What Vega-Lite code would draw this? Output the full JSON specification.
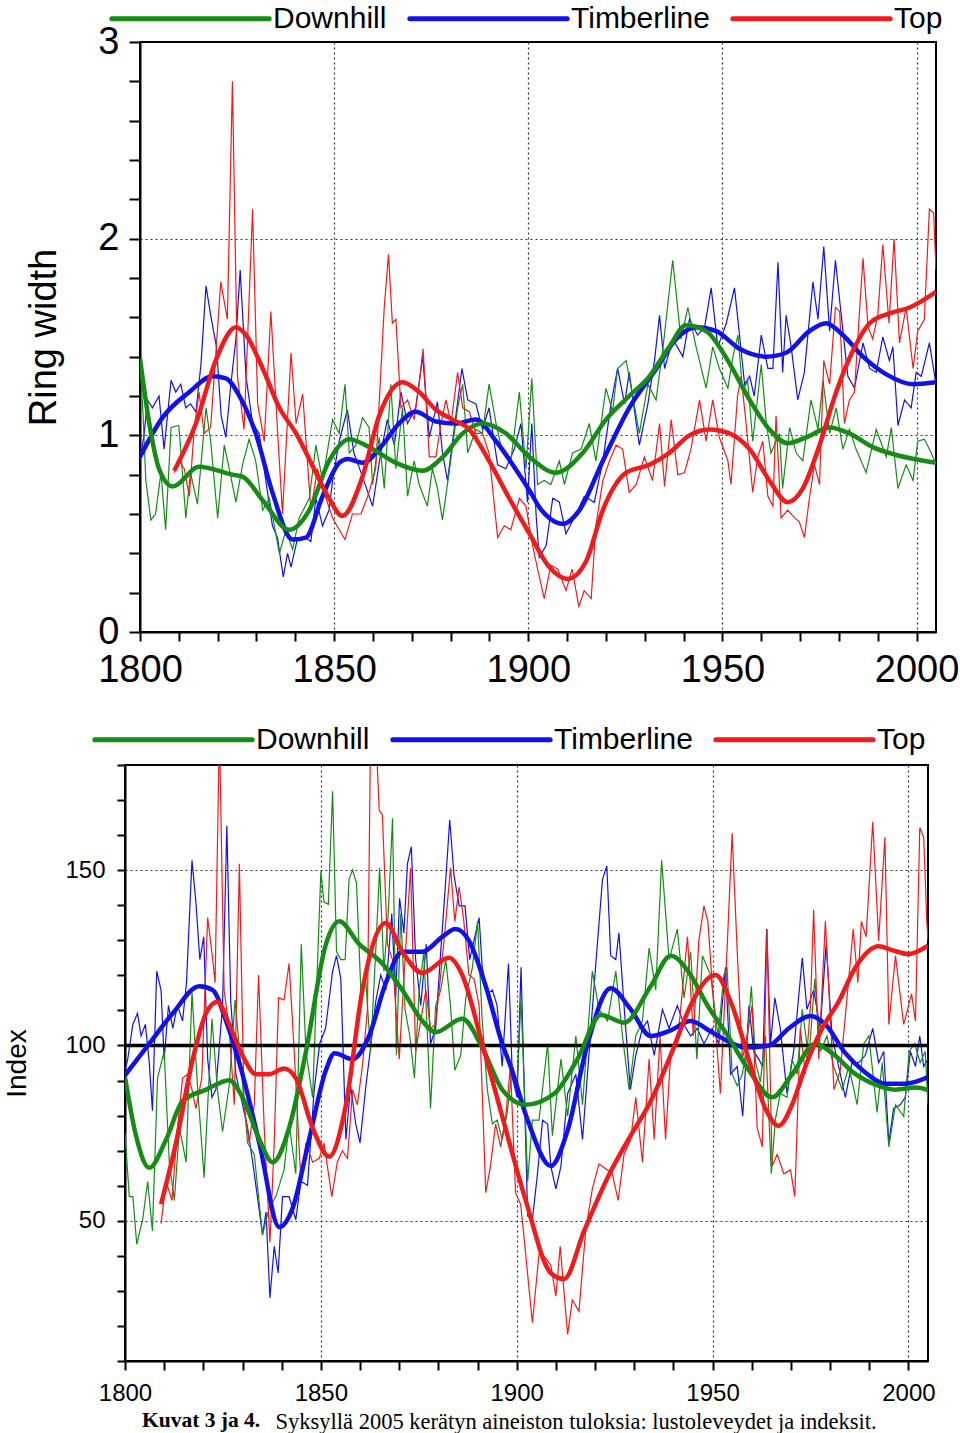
{
  "$schema": "https://vega.github.io/schema/vega-lite/v6.json",
  "padding": {"left": 2, "top": 0, "right": 0, "bottom": 0},
  "background": "white",
  "config": {
    "font": "Liberation Sans",
    "view": {"stroke": "black", "strokeWidth": 2},
    "axis": {"labelFont": "Liberation Sans", "titleFont": "Liberation Sans", "labelColor": "black", "titleColor": "black", "tickColor": "black", "domainColor": "black", "domainWidth": 2, "tickWidth": 2, "titleFontWeight": "normal", "gridColor": "#333333", "gridDash": [2, 3], "gridWidth": 1.2, "labelOverlap": false, "labelFlush": false},
    "legend": {"orient": "none", "direction": "horizontal", "symbolType": "M-5,0H5", "symbolSize": 990, "symbolStrokeWidth": 5, "labelFont": "Liberation Sans", "labelFontSize": 30, "labelColor": "black", "labelLimit": 0, "labelOffset": 64, "columnPadding": 12, "padding": 0, "title": null}
  },
  "title": {"text": "Kuvat 3 ja 4.", "orient": "bottom", "anchor": "start", "font": "Liberation Serif", "fontSize": 21.5, "fontWeight": "bold", "color": "black", "dx": 139, "offset": -24},
  "columns": 1,
  "bounds": "full",
  "spacing": 30,
  "resolve": {"scale": {"color": "independent"}, "legend": {"color": "independent"}},
  "datasets": {
    "rwRaw": [
      {"s":"Timberline","x":1800,"y":0.87},{"s":"Timberline","x":1801.1,"y":1.01},{"s":"Timberline","x":1801.9,"y":1.18},{"s":"Timberline","x":1803.2,"y":1.14},{"s":"Timberline","x":1804.9,"y":1.2},{"s":"Timberline","x":1806.2,"y":0.93},{"s":"Timberline","x":1808,"y":1.28},{"s":"Timberline","x":1809.2,"y":1.22},{"s":"Timberline","x":1810.5,"y":1.26},{"s":"Timberline","x":1811.8,"y":1.14},{"s":"Timberline","x":1813,"y":1.16},{"s":"Timberline","x":1814.4,"y":1.12},{"s":"Timberline","x":1815.7,"y":1.36},{"s":"Timberline","x":1817,"y":1.76},{"s":"Timberline","x":1818.2,"y":1.61},{"s":"Timberline","x":1819.7,"y":1.45},{"s":"Timberline","x":1820.9,"y":1.1},{"s":"Timberline","x":1822.1,"y":0.99},{"s":"Timberline","x":1823.4,"y":1.26},{"s":"Timberline","x":1824.7,"y":1.49},{"s":"Timberline","x":1825.8,"y":1.84},{"s":"Timberline","x":1827.3,"y":1.3},{"s":"Timberline","x":1829,"y":1.06},{"s":"Timberline","x":1830.7,"y":1.01},{"s":"Timberline","x":1832.4,"y":0.77},{"s":"Timberline","x":1834.1,"y":0.54},{"s":"Timberline","x":1835.4,"y":0.48},{"s":"Timberline","x":1836.9,"y":0.28},{"s":"Timberline","x":1838,"y":0.4},{"s":"Timberline","x":1838.9,"y":0.33},{"s":"Timberline","x":1840.6,"y":0.48},{"s":"Timberline","x":1842.7,"y":0.48},{"s":"Timberline","x":1844,"y":0.46},{"s":"Timberline","x":1845.3,"y":0.68},{"s":"Timberline","x":1847,"y":0.54},{"s":"Timberline","x":1848.7,"y":0.62},{"s":"Timberline","x":1849.6,"y":0.77},{"s":"Timberline","x":1851.3,"y":0.97},{"s":"Timberline","x":1853.4,"y":1.13},{"s":"Timberline","x":1855.1,"y":0.91},{"s":"Timberline","x":1857.3,"y":0.79},{"s":"Timberline","x":1859.9,"y":0.64},{"s":"Timberline","x":1862,"y":0.91},{"s":"Timberline","x":1863.7,"y":1.08},{"s":"Timberline","x":1865.5,"y":0.95},{"s":"Timberline","x":1867.2,"y":1.22},{"s":"Timberline","x":1868.9,"y":1.06},{"s":"Timberline","x":1871,"y":1.14},{"s":"Timberline","x":1872.8,"y":1.4},{"s":"Timberline","x":1874.5,"y":0.99},{"s":"Timberline","x":1876.6,"y":1.17},{"s":"Timberline","x":1877.9,"y":0.91},{"s":"Timberline","x":1879.2,"y":0.77},{"s":"Timberline","x":1880.9,"y":1.03},{"s":"Timberline","x":1882.9,"y":1.34},{"s":"Timberline","x":1884.4,"y":1.18},{"s":"Timberline","x":1886.5,"y":1.16},{"s":"Timberline","x":1888.2,"y":1.03},{"s":"Timberline","x":1889.9,"y":1.14},{"s":"Timberline","x":1892.1,"y":0.85},{"s":"Timberline","x":1894.2,"y":0.83},{"s":"Timberline","x":1896.4,"y":0.93},{"s":"Timberline","x":1898.1,"y":1.06},{"s":"Timberline","x":1899.8,"y":0.66},{"s":"Timberline","x":1900.9,"y":1.06},{"s":"Timberline","x":1902,"y":0.6},{"s":"Timberline","x":1902.8,"y":0.38},{"s":"Timberline","x":1904.6,"y":0.44},{"s":"Timberline","x":1906.3,"y":0.68},{"s":"Timberline","x":1908,"y":0.66},{"s":"Timberline","x":1909.7,"y":0.5},{"s":"Timberline","x":1912.3,"y":0.6},{"s":"Timberline","x":1914.4,"y":0.69},{"s":"Timberline","x":1917,"y":0.66},{"s":"Timberline","x":1919.2,"y":0.87},{"s":"Timberline","x":1921.3,"y":1.16},{"s":"Timberline","x":1923,"y":1.34},{"s":"Timberline","x":1924.8,"y":1.16},{"s":"Timberline","x":1926,"y":1.32},{"s":"Timberline","x":1927.8,"y":1.06},{"s":"Timberline","x":1928.6,"y":0.95},{"s":"Timberline","x":1930.8,"y":1.16},{"s":"Timberline","x":1932.5,"y":1.38},{"s":"Timberline","x":1933.8,"y":1.61},{"s":"Timberline","x":1935.1,"y":1.34},{"s":"Timberline","x":1937.2,"y":1.49},{"s":"Timberline","x":1939.8,"y":1.4},{"s":"Timberline","x":1941.5,"y":1.59},{"s":"Timberline","x":1943.6,"y":1.51},{"s":"Timberline","x":1945.4,"y":1.55},{"s":"Timberline","x":1947.1,"y":1.75},{"s":"Timberline","x":1948.8,"y":1.45},{"s":"Timberline","x":1951,"y":1.57},{"s":"Timberline","x":1953.1,"y":1.75},{"s":"Timberline","x":1954.4,"y":1.51},{"s":"Timberline","x":1955.7,"y":1.26},{"s":"Timberline","x":1957,"y":1.3},{"s":"Timberline","x":1958.2,"y":1.2},{"s":"Timberline","x":1960,"y":1.51},{"s":"Timberline","x":1961.7,"y":1.34},{"s":"Timberline","x":1963,"y":1.34},{"s":"Timberline","x":1964.3,"y":1.88},{"s":"Timberline","x":1965.5,"y":1.32},{"s":"Timberline","x":1966.4,"y":1.61},{"s":"Timberline","x":1967.7,"y":1.45},{"s":"Timberline","x":1969.4,"y":1.18},{"s":"Timberline","x":1971.1,"y":1.32},{"s":"Timberline","x":1973.3,"y":1.78},{"s":"Timberline","x":1974.6,"y":1.59},{"s":"Timberline","x":1976.1,"y":1.96},{"s":"Timberline","x":1977.6,"y":1.53},{"s":"Timberline","x":1979.1,"y":1.89},{"s":"Timberline","x":1980.6,"y":1.61},{"s":"Timberline","x":1982.3,"y":1.3},{"s":"Timberline","x":1984,"y":1.24},{"s":"Timberline","x":1986.2,"y":1.47},{"s":"Timberline","x":1987.9,"y":1.34},{"s":"Timberline","x":1989.6,"y":1.32},{"s":"Timberline","x":1991.3,"y":1.5},{"s":"Timberline","x":1993,"y":1.38},{"s":"Timberline","x":1993.9,"y":1.45},{"s":"Timberline","x":1995.2,"y":1.05},{"s":"Timberline","x":1996.9,"y":1.18},{"s":"Timberline","x":1998.6,"y":1.14},{"s":"Timberline","x":1999.9,"y":1.32},{"s":"Timberline","x":2001.2,"y":1.3},{"s":"Timberline","x":2003.3,"y":1.47},{"s":"Timberline","x":2005,"y":1.26},
      {"s":"Downhill","x":1800,"y":1.38},{"s":"Downhill","x":1800.8,"y":1.1},{"s":"Downhill","x":1801.5,"y":0.77},{"s":"Downhill","x":1802.8,"y":0.57},{"s":"Downhill","x":1804,"y":0.6},{"s":"Downhill","x":1805.4,"y":0.81},{"s":"Downhill","x":1806.6,"y":0.52},{"s":"Downhill","x":1808,"y":1.04},{"s":"Downhill","x":1810,"y":1.05},{"s":"Downhill","x":1811.8,"y":0.58},{"s":"Downhill","x":1813,"y":0.81},{"s":"Downhill","x":1814.8,"y":0.65},{"s":"Downhill","x":1817,"y":1.14},{"s":"Downhill","x":1818.2,"y":0.97},{"s":"Downhill","x":1820,"y":0.58},{"s":"Downhill","x":1821.7,"y":0.95},{"s":"Downhill","x":1823,"y":0.83},{"s":"Downhill","x":1824.7,"y":0.66},{"s":"Downhill","x":1826.4,"y":0.85},{"s":"Downhill","x":1828.1,"y":0.98},{"s":"Downhill","x":1829.8,"y":0.87},{"s":"Downhill","x":1831.6,"y":0.62},{"s":"Downhill","x":1833.3,"y":0.68},{"s":"Downhill","x":1835.9,"y":0.4},{"s":"Downhill","x":1837.6,"y":0.52},{"s":"Downhill","x":1839.3,"y":0.42},{"s":"Downhill","x":1841,"y":0.58},{"s":"Downhill","x":1843.6,"y":0.68},{"s":"Downhill","x":1845.3,"y":0.95},{"s":"Downhill","x":1847,"y":0.77},{"s":"Downhill","x":1849.6,"y":1.08},{"s":"Downhill","x":1851.3,"y":1.01},{"s":"Downhill","x":1852.8,"y":1.26},{"s":"Downhill","x":1853.9,"y":0.91},{"s":"Downhill","x":1855.6,"y":0.95},{"s":"Downhill","x":1857.3,"y":1.09},{"s":"Downhill","x":1859,"y":1.04},{"s":"Downhill","x":1859.9,"y":0.75},{"s":"Downhill","x":1861.6,"y":0.99},{"s":"Downhill","x":1862.9,"y":0.73},{"s":"Downhill","x":1864.6,"y":1.26},{"s":"Downhill","x":1865.9,"y":0.83},{"s":"Downhill","x":1867.6,"y":1.14},{"s":"Downhill","x":1868.9,"y":0.69},{"s":"Downhill","x":1870.6,"y":0.87},{"s":"Downhill","x":1871.9,"y":0.75},{"s":"Downhill","x":1874,"y":0.64},{"s":"Downhill","x":1875.3,"y":0.83},{"s":"Downhill","x":1876.6,"y":0.73},{"s":"Downhill","x":1877.9,"y":0.57},{"s":"Downhill","x":1879.6,"y":0.81},{"s":"Downhill","x":1881.8,"y":1.14},{"s":"Downhill","x":1883.1,"y":1.26},{"s":"Downhill","x":1884.4,"y":0.91},{"s":"Downhill","x":1886.5,"y":1.03},{"s":"Downhill","x":1888.2,"y":1.01},{"s":"Downhill","x":1889.9,"y":1.26},{"s":"Downhill","x":1891.7,"y":1.06},{"s":"Downhill","x":1893.4,"y":0.91},{"s":"Downhill","x":1895.5,"y":0.87},{"s":"Downhill","x":1897.7,"y":1.22},{"s":"Downhill","x":1899.4,"y":0.83},{"s":"Downhill","x":1900.9,"y":1.29},{"s":"Downhill","x":1902.4,"y":0.75},{"s":"Downhill","x":1904.1,"y":0.77},{"s":"Downhill","x":1905.8,"y":0.75},{"s":"Downhill","x":1908,"y":0.87},{"s":"Downhill","x":1909.3,"y":0.75},{"s":"Downhill","x":1911.4,"y":0.91},{"s":"Downhill","x":1913.6,"y":0.93},{"s":"Downhill","x":1915.7,"y":1.06},{"s":"Downhill","x":1917.4,"y":0.87},{"s":"Downhill","x":1920,"y":1.24},{"s":"Downhill","x":1921.7,"y":1.12},{"s":"Downhill","x":1923,"y":1.34},{"s":"Downhill","x":1925.2,"y":1.38},{"s":"Downhill","x":1926.9,"y":1.2},{"s":"Downhill","x":1928.6,"y":1.01},{"s":"Downhill","x":1930.8,"y":1.26},{"s":"Downhill","x":1932.9,"y":1.18},{"s":"Downhill","x":1934.6,"y":1.43},{"s":"Downhill","x":1937.2,"y":1.89},{"s":"Downhill","x":1939.3,"y":1.49},{"s":"Downhill","x":1941.1,"y":1.65},{"s":"Downhill","x":1943.2,"y":1.45},{"s":"Downhill","x":1945.8,"y":1.24},{"s":"Downhill","x":1947.5,"y":1.45},{"s":"Downhill","x":1949.2,"y":1.34},{"s":"Downhill","x":1951.4,"y":1.24},{"s":"Downhill","x":1952.7,"y":1.4},{"s":"Downhill","x":1954,"y":1.51},{"s":"Downhill","x":1955.2,"y":1.22},{"s":"Downhill","x":1956.5,"y":1.28},{"s":"Downhill","x":1957.8,"y":0.97},{"s":"Downhill","x":1960,"y":1.36},{"s":"Downhill","x":1961.3,"y":1.06},{"s":"Downhill","x":1962.5,"y":0.91},{"s":"Downhill","x":1964.7,"y":1.01},{"s":"Downhill","x":1965.5,"y":0.73},{"s":"Downhill","x":1967.3,"y":1.04},{"s":"Downhill","x":1969,"y":0.91},{"s":"Downhill","x":1970.7,"y":0.87},{"s":"Downhill","x":1972.8,"y":1.18},{"s":"Downhill","x":1974.6,"y":1.03},{"s":"Downhill","x":1975.9,"y":1.28},{"s":"Downhill","x":1977.6,"y":1.01},{"s":"Downhill","x":1979.3,"y":1.14},{"s":"Downhill","x":1981,"y":0.93},{"s":"Downhill","x":1982.7,"y":1.03},{"s":"Downhill","x":1984.4,"y":0.93},{"s":"Downhill","x":1987,"y":0.81},{"s":"Downhill","x":1989.6,"y":1.03},{"s":"Downhill","x":1992.2,"y":0.89},{"s":"Downhill","x":1993.5,"y":1.04},{"s":"Downhill","x":1995.2,"y":0.73},{"s":"Downhill","x":1997.3,"y":0.85},{"s":"Downhill","x":1999.1,"y":0.77},{"s":"Downhill","x":2000.3,"y":0.97},{"s":"Downhill","x":2002,"y":0.98},{"s":"Downhill","x":2003.8,"y":0.91},{"s":"Downhill","x":2005,"y":0.85},
      {"s":"Top","x":1808.8,"y":0.81},{"s":"Top","x":1810.1,"y":0.87},{"s":"Top","x":1811.4,"y":0.83},{"s":"Top","x":1812.7,"y":0.69},{"s":"Top","x":1814,"y":1.04},{"s":"Top","x":1815.2,"y":1.22},{"s":"Top","x":1816.5,"y":1.01},{"s":"Top","x":1818.2,"y":1.04},{"s":"Top","x":1819.5,"y":1.41},{"s":"Top","x":1820.8,"y":1.78},{"s":"Top","x":1822.5,"y":1.59},{"s":"Top","x":1823.8,"y":2.8},{"s":"Top","x":1825.1,"y":1.3},{"s":"Top","x":1826.8,"y":1.03},{"s":"Top","x":1829,"y":2.15},{"s":"Top","x":1830.3,"y":1.16},{"s":"Top","x":1832,"y":0.97},{"s":"Top","x":1833.7,"y":1.63},{"s":"Top","x":1835.4,"y":1.03},{"s":"Top","x":1836.7,"y":0.6},{"s":"Top","x":1838.9,"y":1.42},{"s":"Top","x":1840.2,"y":1.06},{"s":"Top","x":1841.9,"y":1.21},{"s":"Top","x":1844,"y":0.62},{"s":"Top","x":1845.7,"y":0.83},{"s":"Top","x":1847.9,"y":0.68},{"s":"Top","x":1849.6,"y":0.58},{"s":"Top","x":1851.3,"y":0.52},{"s":"Top","x":1852.8,"y":0.47},{"s":"Top","x":1854.7,"y":0.6},{"s":"Top","x":1856.9,"y":0.6},{"s":"Top","x":1859,"y":0.71},{"s":"Top","x":1860.7,"y":0.83},{"s":"Top","x":1862.9,"y":1.65},{"s":"Top","x":1864,"y":1.92},{"s":"Top","x":1865,"y":1.57},{"s":"Top","x":1865.9,"y":1.59},{"s":"Top","x":1867.2,"y":1.14},{"s":"Top","x":1868.9,"y":1.18},{"s":"Top","x":1870.6,"y":1.08},{"s":"Top","x":1871.9,"y":1.26},{"s":"Top","x":1872.9,"y":1.44},{"s":"Top","x":1874.5,"y":0.89},{"s":"Top","x":1876.2,"y":0.89},{"s":"Top","x":1877.5,"y":1.06},{"s":"Top","x":1878.8,"y":1.18},{"s":"Top","x":1880.1,"y":1.06},{"s":"Top","x":1881.8,"y":1.32},{"s":"Top","x":1883.1,"y":1.14},{"s":"Top","x":1884.8,"y":1.12},{"s":"Top","x":1886.5,"y":1.01},{"s":"Top","x":1888.2,"y":1.01},{"s":"Top","x":1889.9,"y":0.91},{"s":"Top","x":1892.1,"y":0.48},{"s":"Top","x":1893.8,"y":0.54},{"s":"Top","x":1895.5,"y":0.52},{"s":"Top","x":1897.7,"y":0.68},{"s":"Top","x":1899.4,"y":0.64},{"s":"Top","x":1901.1,"y":0.44},{"s":"Top","x":1902.4,"y":0.32},{"s":"Top","x":1904.1,"y":0.17},{"s":"Top","x":1905.8,"y":0.34},{"s":"Top","x":1907.6,"y":0.32},{"s":"Top","x":1909.7,"y":0.21},{"s":"Top","x":1911.3,"y":0.32},{"s":"Top","x":1913,"y":0.13},{"s":"Top","x":1914.4,"y":0.21},{"s":"Top","x":1916.2,"y":0.17},{"s":"Top","x":1917.4,"y":0.54},{"s":"Top","x":1919.2,"y":0.77},{"s":"Top","x":1920.9,"y":0.87},{"s":"Top","x":1922.6,"y":0.95},{"s":"Top","x":1924.3,"y":0.93},{"s":"Top","x":1926,"y":0.71},{"s":"Top","x":1927.8,"y":0.75},{"s":"Top","x":1929.9,"y":0.89},{"s":"Top","x":1932,"y":0.77},{"s":"Top","x":1933.8,"y":1.06},{"s":"Top","x":1935.1,"y":0.74},{"s":"Top","x":1936.8,"y":1.08},{"s":"Top","x":1938.5,"y":0.8},{"s":"Top","x":1940.2,"y":0.81},{"s":"Top","x":1941.9,"y":0.93},{"s":"Top","x":1944.1,"y":1.18},{"s":"Top","x":1945.8,"y":0.97},{"s":"Top","x":1947.5,"y":1.18},{"s":"Top","x":1949.2,"y":0.99},{"s":"Top","x":1951.4,"y":0.87},{"s":"Top","x":1952.2,"y":0.75},{"s":"Top","x":1953.9,"y":1.2},{"s":"Top","x":1954.8,"y":1.3},{"s":"Top","x":1956.1,"y":1.06},{"s":"Top","x":1957.8,"y":0.71},{"s":"Top","x":1959.1,"y":0.89},{"s":"Top","x":1960.4,"y":0.97},{"s":"Top","x":1961.7,"y":0.69},{"s":"Top","x":1963,"y":0.64},{"s":"Top","x":1963.8,"y":1.1},{"s":"Top","x":1965.1,"y":0.58},{"s":"Top","x":1966.8,"y":0.62},{"s":"Top","x":1968.6,"y":0.58},{"s":"Top","x":1969.8,"y":0.56},{"s":"Top","x":1971.1,"y":0.48},{"s":"Top","x":1972.4,"y":0.68},{"s":"Top","x":1973.7,"y":0.85},{"s":"Top","x":1975,"y":0.75},{"s":"Top","x":1976.1,"y":1.38},{"s":"Top","x":1977.6,"y":1.26},{"s":"Top","x":1979.1,"y":1.65},{"s":"Top","x":1980.2,"y":1.63},{"s":"Top","x":1981.4,"y":1.06},{"s":"Top","x":1982.7,"y":1.18},{"s":"Top","x":1984,"y":1.22},{"s":"Top","x":1985.3,"y":1.63},{"s":"Top","x":1986.2,"y":1.9},{"s":"Top","x":1987.5,"y":1.55},{"s":"Top","x":1988.7,"y":1.49},{"s":"Top","x":1990,"y":1.61},{"s":"Top","x":1991.3,"y":1.97},{"s":"Top","x":1992.9,"y":1.57},{"s":"Top","x":1994.2,"y":2},{"s":"Top","x":1995.6,"y":1.47},{"s":"Top","x":1997.3,"y":1.65},{"s":"Top","x":1999.1,"y":1.34},{"s":"Top","x":2000.3,"y":1.53},{"s":"Top","x":2002,"y":1.59},{"s":"Top","x":2003.3,"y":2.15},{"s":"Top","x":2004.4,"y":2.13},{"s":"Top","x":2005,"y":1.84}
    ],
    "rwSmooth": [
      {"s":"Timberline","x":1800,"y":0.89},{"s":"Timberline","x":1805.8,"y":1.09},{"s":"Timberline","x":1812.7,"y":1.22},{"s":"Timberline","x":1818.7,"y":1.3},{"s":"Timberline","x":1822.1,"y":1.29},{"s":"Timberline","x":1825.6,"y":1.2},{"s":"Timberline","x":1829.8,"y":1.01},{"s":"Timberline","x":1834.1,"y":0.71},{"s":"Timberline","x":1839.3,"y":0.47},{"s":"Timberline","x":1842.7,"y":0.48},{"s":"Timberline","x":1847,"y":0.69},{"s":"Timberline","x":1851.3,"y":0.86},{"s":"Timberline","x":1853.5,"y":0.88},{"s":"Timberline","x":1857.3,"y":0.86},{"s":"Timberline","x":1862.4,"y":0.95},{"s":"Timberline","x":1866.7,"y":1.06},{"s":"Timberline","x":1871,"y":1.12},{"s":"Timberline","x":1876.2,"y":1.07},{"s":"Timberline","x":1881.3,"y":1.06},{"s":"Timberline","x":1886.5,"y":1.08},{"s":"Timberline","x":1891.7,"y":0.97},{"s":"Timberline","x":1897.7,"y":0.8},{"s":"Timberline","x":1900.3,"y":0.72},{"s":"Timberline","x":1903,"y":0.63},{"s":"Timberline","x":1905.4,"y":0.58},{"s":"Timberline","x":1908.9,"y":0.55},{"s":"Timberline","x":1913.2,"y":0.62},{"s":"Timberline","x":1919.2,"y":0.87},{"s":"Timberline","x":1926,"y":1.14},{"s":"Timberline","x":1933,"y":1.34},{"s":"Timberline","x":1938.1,"y":1.49},{"s":"Timberline","x":1943.2,"y":1.55},{"s":"Timberline","x":1948.4,"y":1.53},{"s":"Timberline","x":1954.4,"y":1.44},{"s":"Timberline","x":1961.3,"y":1.4},{"s":"Timberline","x":1966.4,"y":1.42},{"s":"Timberline","x":1972.4,"y":1.53},{"s":"Timberline","x":1976.7,"y":1.57},{"s":"Timberline","x":1981,"y":1.51},{"s":"Timberline","x":1986.2,"y":1.4},{"s":"Timberline","x":1992.2,"y":1.31},{"s":"Timberline","x":1999.1,"y":1.26},{"s":"Timberline","x":2005,"y":1.27},
      {"s":"Downhill","x":1800,"y":1.39},{"s":"Downhill","x":1802.4,"y":1.06},{"s":"Downhill","x":1804.9,"y":0.83},{"s":"Downhill","x":1808.4,"y":0.74},{"s":"Downhill","x":1815.2,"y":0.84},{"s":"Downhill","x":1823.8,"y":0.8},{"s":"Downhill","x":1826.4,"y":0.79},{"s":"Downhill","x":1831.6,"y":0.67},{"s":"Downhill","x":1838.4,"y":0.52},{"s":"Downhill","x":1843.6,"y":0.62},{"s":"Downhill","x":1848.7,"y":0.87},{"s":"Downhill","x":1853.9,"y":0.98},{"s":"Downhill","x":1859,"y":0.94},{"s":"Downhill","x":1865.9,"y":0.86},{"s":"Downhill","x":1872.8,"y":0.82},{"s":"Downhill","x":1878,"y":0.89},{"s":"Downhill","x":1883.1,"y":1.01},{"s":"Downhill","x":1888.2,"y":1.06},{"s":"Downhill","x":1894.2,"y":1.01},{"s":"Downhill","x":1900.3,"y":0.89},{"s":"Downhill","x":1907.1,"y":0.81},{"s":"Downhill","x":1914,"y":0.91},{"s":"Downhill","x":1920,"y":1.08},{"s":"Downhill","x":1926,"y":1.2},{"s":"Downhill","x":1931.2,"y":1.3},{"s":"Downhill","x":1936.3,"y":1.45},{"s":"Downhill","x":1940.6,"y":1.56},{"s":"Downhill","x":1945.8,"y":1.53},{"s":"Downhill","x":1951.4,"y":1.38},{"s":"Downhill","x":1957,"y":1.18},{"s":"Downhill","x":1962.1,"y":1.03},{"s":"Downhill","x":1966.8,"y":0.96},{"s":"Downhill","x":1971.6,"y":0.99},{"s":"Downhill","x":1977.6,"y":1.04},{"s":"Downhill","x":1982.7,"y":1.01},{"s":"Downhill","x":1988.7,"y":0.94},{"s":"Downhill","x":1994.8,"y":0.9},{"s":"Downhill","x":2005,"y":0.86},
      {"s":"Top","x":1808.8,"y":0.82},{"s":"Top","x":1814.4,"y":1.06},{"s":"Top","x":1819.5,"y":1.38},{"s":"Top","x":1824.7,"y":1.55},{"s":"Top","x":1827.3,"y":1.51},{"s":"Top","x":1831.6,"y":1.34},{"s":"Top","x":1835.9,"y":1.14},{"s":"Top","x":1840.2,"y":1.01},{"s":"Top","x":1845.3,"y":0.81},{"s":"Top","x":1848.7,"y":0.68},{"s":"Top","x":1852.1,"y":0.59},{"s":"Top","x":1857.3,"y":0.79},{"s":"Top","x":1861.6,"y":1.1},{"s":"Top","x":1867.6,"y":1.27},{"s":"Top","x":1871.9,"y":1.22},{"s":"Top","x":1876.2,"y":1.13},{"s":"Top","x":1880.5,"y":1.08},{"s":"Top","x":1884.8,"y":1.03},{"s":"Top","x":1889.9,"y":0.87},{"s":"Top","x":1895.1,"y":0.68},{"s":"Top","x":1900.3,"y":0.5},{"s":"Top","x":1905.4,"y":0.33},{"s":"Top","x":1910.1,"y":0.27},{"s":"Top","x":1914.9,"y":0.36},{"s":"Top","x":1919.2,"y":0.62},{"s":"Top","x":1925.2,"y":0.81},{"s":"Top","x":1931.2,"y":0.85},{"s":"Top","x":1936.3,"y":0.91},{"s":"Top","x":1941.5,"y":1},{"s":"Top","x":1946.6,"y":1.03},{"s":"Top","x":1951.8,"y":1.01},{"s":"Top","x":1957,"y":0.93},{"s":"Top","x":1962.1,"y":0.77},{"s":"Top","x":1966.8,"y":0.66},{"s":"Top","x":1970.7,"y":0.73},{"s":"Top","x":1975,"y":0.95},{"s":"Top","x":1979.3,"y":1.22},{"s":"Top","x":1983.6,"y":1.43},{"s":"Top","x":1987.9,"y":1.57},{"s":"Top","x":1993,"y":1.62},{"s":"Top","x":1998.2,"y":1.65},{"s":"Top","x":2005,"y":1.73}
    ],
    "ixRaw": [
      {"s":"Timberline","x":1800,"y":93},{"s":"Timberline","x":1800.7,"y":96.1},{"s":"Timberline","x":1802,"y":106},{"s":"Timberline","x":1803.2,"y":109.2},{"s":"Timberline","x":1804.1,"y":102.7},{"s":"Timberline","x":1805.2,"y":106},{"s":"Timberline","x":1806.2,"y":95.1},{"s":"Timberline","x":1807,"y":81.4},{"s":"Timberline","x":1808.1,"y":121.2},{"s":"Timberline","x":1809.2,"y":115.8},{"s":"Timberline","x":1810,"y":96.1},{"s":"Timberline","x":1811.1,"y":111.4},{"s":"Timberline","x":1812.2,"y":104.9},{"s":"Timberline","x":1813.4,"y":111.4},{"s":"Timberline","x":1814.7,"y":107},{"s":"Timberline","x":1815.7,"y":117.9},{"s":"Timberline","x":1817.1,"y":152.8},{"s":"Timberline","x":1818.1,"y":140.9},{"s":"Timberline","x":1819.1,"y":124.5},{"s":"Timberline","x":1820.1,"y":131},{"s":"Timberline","x":1821.1,"y":96.1},{"s":"Timberline","x":1822.2,"y":85.2},{"s":"Timberline","x":1823.2,"y":87.4},{"s":"Timberline","x":1824.9,"y":111.4},{"s":"Timberline","x":1826,"y":162.7},{"s":"Timberline","x":1827,"y":112.5},{"s":"Timberline","x":1828.3,"y":91.8},{"s":"Timberline","x":1830,"y":83.1},{"s":"Timberline","x":1831.3,"y":76.5},{"s":"Timberline","x":1832.6,"y":66.7},{"s":"Timberline","x":1833.8,"y":56.9},{"s":"Timberline","x":1835.1,"y":46},{"s":"Timberline","x":1836,"y":52.5},{"s":"Timberline","x":1837,"y":28},{"s":"Timberline","x":1838.1,"y":42.7},{"s":"Timberline","x":1839.1,"y":35.1},{"s":"Timberline","x":1840.2,"y":56.9},{"s":"Timberline","x":1841.9,"y":56.9},{"s":"Timberline","x":1843.6,"y":50.3},{"s":"Timberline","x":1844.9,"y":61.2},{"s":"Timberline","x":1846.6,"y":60.1},{"s":"Timberline","x":1848.3,"y":87.4},{"s":"Timberline","x":1849.7,"y":100.5},{"s":"Timberline","x":1851.2,"y":104.9},{"s":"Timberline","x":1853,"y":121.2},{"s":"Timberline","x":1854,"y":125.6},{"s":"Timberline","x":1855.1,"y":119},{"s":"Timberline","x":1856.4,"y":73.2},{"s":"Timberline","x":1857.6,"y":88.5},{"s":"Timberline","x":1858.9,"y":77.6},{"s":"Timberline","x":1860,"y":72.2},{"s":"Timberline","x":1861.5,"y":88.5},{"s":"Timberline","x":1862.7,"y":99.4},{"s":"Timberline","x":1864,"y":112.5},{"s":"Timberline","x":1865.3,"y":120.1},{"s":"Timberline","x":1866.6,"y":115.8},{"s":"Timberline","x":1868.1,"y":137.6},{"s":"Timberline","x":1869.1,"y":113.6},{"s":"Timberline","x":1870.1,"y":142},{"s":"Timberline","x":1871.2,"y":132.1},{"s":"Timberline","x":1872.1,"y":151.8},{"s":"Timberline","x":1873.1,"y":156.7},{"s":"Timberline","x":1874.2,"y":124.5},{"s":"Timberline","x":1875.5,"y":111.4},{"s":"Timberline","x":1876.9,"y":128.9},{"s":"Timberline","x":1878,"y":100.5},{"s":"Timberline","x":1879.3,"y":104.9},{"s":"Timberline","x":1880.6,"y":126.7},{"s":"Timberline","x":1881.9,"y":147.4},{"s":"Timberline","x":1882.9,"y":164.3},{"s":"Timberline","x":1884,"y":148.5},{"s":"Timberline","x":1885.3,"y":139.8},{"s":"Timberline","x":1886.8,"y":139.8},{"s":"Timberline","x":1888,"y":124.5},{"s":"Timberline","x":1889.3,"y":131},{"s":"Timberline","x":1890.4,"y":136.5},{"s":"Timberline","x":1891.2,"y":122.3},{"s":"Timberline","x":1892.5,"y":114.7},{"s":"Timberline","x":1893.8,"y":115.8},{"s":"Timberline","x":1895,"y":111.4},{"s":"Timberline","x":1896.3,"y":94},{"s":"Timberline","x":1897.9,"y":123.4},{"s":"Timberline","x":1898.9,"y":90.7},{"s":"Timberline","x":1900.1,"y":85.2},{"s":"Timberline","x":1901.1,"y":122.3},{"s":"Timberline","x":1902.8,"y":51.4},{"s":"Timberline","x":1904,"y":50.3},{"s":"Timberline","x":1905.3,"y":63.4},{"s":"Timberline","x":1906.6,"y":78.7},{"s":"Timberline","x":1907.9,"y":77.6},{"s":"Timberline","x":1908.7,"y":65.6},{"s":"Timberline","x":1910,"y":59.1},{"s":"Timberline","x":1911.3,"y":65.6},{"s":"Timberline","x":1913,"y":86.3},{"s":"Timberline","x":1915.1,"y":91.8},{"s":"Timberline","x":1916.8,"y":73.2},{"s":"Timberline","x":1918.5,"y":98.3},{"s":"Timberline","x":1920.2,"y":123.4},{"s":"Timberline","x":1921.9,"y":147.4},{"s":"Timberline","x":1923,"y":151.2},{"s":"Timberline","x":1924,"y":125.6},{"s":"Timberline","x":1925.3,"y":124.5},{"s":"Timberline","x":1926.1,"y":132.1},{"s":"Timberline","x":1927.4,"y":111.4},{"s":"Timberline","x":1929,"y":87.4},{"s":"Timberline","x":1930.4,"y":97.2},{"s":"Timberline","x":1932.1,"y":104.9},{"s":"Timberline","x":1933.4,"y":107},{"s":"Timberline","x":1935.1,"y":97.2},{"s":"Timberline","x":1937.2,"y":110.3},{"s":"Timberline","x":1938.9,"y":104.9},{"s":"Timberline","x":1941,"y":111.4},{"s":"Timberline","x":1942.7,"y":106},{"s":"Timberline","x":1944.4,"y":102.7},{"s":"Timberline","x":1946.1,"y":104.9},{"s":"Timberline","x":1947.8,"y":100.5},{"s":"Timberline","x":1949.9,"y":104.9},{"s":"Timberline","x":1951.6,"y":100.5},{"s":"Timberline","x":1953.3,"y":122.3},{"s":"Timberline","x":1954.6,"y":91.8},{"s":"Timberline","x":1956.3,"y":94},{"s":"Timberline","x":1957.7,"y":79.8},{"s":"Timberline","x":1959.3,"y":111.4},{"s":"Timberline","x":1960.5,"y":98.3},{"s":"Timberline","x":1961.8,"y":96.1},{"s":"Timberline","x":1962.8,"y":94},{"s":"Timberline","x":1963.8,"y":133.2},{"s":"Timberline","x":1964.8,"y":100.5},{"s":"Timberline","x":1965.9,"y":113.6},{"s":"Timberline","x":1967.3,"y":104.9},{"s":"Timberline","x":1969,"y":86.3},{"s":"Timberline","x":1970.7,"y":98.3},{"s":"Timberline","x":1972.9,"y":125},{"s":"Timberline","x":1974.1,"y":110.3},{"s":"Timberline","x":1975.8,"y":115.8},{"s":"Timberline","x":1977.5,"y":104.9},{"s":"Timberline","x":1979,"y":128.9},{"s":"Timberline","x":1980.5,"y":102.7},{"s":"Timberline","x":1982.2,"y":94},{"s":"Timberline","x":1983.9,"y":85.2},{"s":"Timberline","x":1985.6,"y":95.1},{"s":"Timberline","x":1987.3,"y":95.1},{"s":"Timberline","x":1989,"y":97.2},{"s":"Timberline","x":1990.9,"y":104.9},{"s":"Timberline","x":1992.4,"y":95.1},{"s":"Timberline","x":1993.7,"y":98.3},{"s":"Timberline","x":1995,"y":72.2},{"s":"Timberline","x":1996.2,"y":82},{"s":"Timberline","x":1997.9,"y":83.1},{"s":"Timberline","x":1999.2,"y":85.2},{"s":"Timberline","x":2000.5,"y":98.3},{"s":"Timberline","x":2001.8,"y":94},{"s":"Timberline","x":2002.9,"y":102.7},{"s":"Timberline","x":2003.9,"y":94},{"s":"Timberline","x":2005,"y":96.1},
      {"s":"Downhill","x":1800,"y":75},{"s":"Downhill","x":1801.1,"y":56.9},{"s":"Downhill","x":1802,"y":56.9},{"s":"Downhill","x":1803,"y":43.3},{"s":"Downhill","x":1804.5,"y":50.3},{"s":"Downhill","x":1805.8,"y":61.2},{"s":"Downhill","x":1807,"y":47.1},{"s":"Downhill","x":1808.3,"y":90.7},{"s":"Downhill","x":1810,"y":98.3},{"s":"Downhill","x":1811.3,"y":66.7},{"s":"Downhill","x":1812.6,"y":55.8},{"s":"Downhill","x":1813.9,"y":76.5},{"s":"Downhill","x":1815.6,"y":66.7},{"s":"Downhill","x":1817.1,"y":115.2},{"s":"Downhill","x":1818.5,"y":88.5},{"s":"Downhill","x":1820.2,"y":62.3},{"s":"Downhill","x":1822.2,"y":107.6},{"s":"Downhill","x":1823.6,"y":87.4},{"s":"Downhill","x":1824.9,"y":75.4},{"s":"Downhill","x":1826.6,"y":88.5},{"s":"Downhill","x":1828.1,"y":113},{"s":"Downhill","x":1829.6,"y":94},{"s":"Downhill","x":1831.3,"y":72.2},{"s":"Downhill","x":1833,"y":68.9},{"s":"Downhill","x":1835.1,"y":46},{"s":"Downhill","x":1836.8,"y":53.6},{"s":"Downhill","x":1838.5,"y":56.9},{"s":"Downhill","x":1840.6,"y":64.5},{"s":"Downhill","x":1841.9,"y":77.6},{"s":"Downhill","x":1843.6,"y":63.4},{"s":"Downhill","x":1845,"y":128.9},{"s":"Downhill","x":1846.2,"y":98.3},{"s":"Downhill","x":1847.9,"y":85.2},{"s":"Downhill","x":1850,"y":149.6},{"s":"Downhill","x":1850.8,"y":140.9},{"s":"Downhill","x":1851.9,"y":140.3},{"s":"Downhill","x":1853,"y":172.5},{"s":"Downhill","x":1854,"y":126.7},{"s":"Downhill","x":1855.1,"y":124.5},{"s":"Downhill","x":1856.2,"y":124.5},{"s":"Downhill","x":1857.2,"y":147.4},{"s":"Downhill","x":1858.1,"y":150.1},{"s":"Downhill","x":1859.1,"y":146.3},{"s":"Downhill","x":1860.2,"y":115.8},{"s":"Downhill","x":1861.5,"y":117.9},{"s":"Downhill","x":1862.7,"y":98.3},{"s":"Downhill","x":1864,"y":126.7},{"s":"Downhill","x":1865,"y":150.7},{"s":"Downhill","x":1866.1,"y":121.2},{"s":"Downhill","x":1867.2,"y":137.6},{"s":"Downhill","x":1868.3,"y":164.8},{"s":"Downhill","x":1869.3,"y":97.2},{"s":"Downhill","x":1870.4,"y":137.6},{"s":"Downhill","x":1871.5,"y":110.3},{"s":"Downhill","x":1872.7,"y":102.7},{"s":"Downhill","x":1873.9,"y":90.7},{"s":"Downhill","x":1875.1,"y":115.8},{"s":"Downhill","x":1876.3,"y":126.7},{"s":"Downhill","x":1878,"y":82},{"s":"Downhill","x":1879.3,"y":111.4},{"s":"Downhill","x":1880.6,"y":115.8},{"s":"Downhill","x":1881.9,"y":124.5},{"s":"Downhill","x":1883.1,"y":111.4},{"s":"Downhill","x":1884.2,"y":92.9},{"s":"Downhill","x":1885.7,"y":97.2},{"s":"Downhill","x":1887,"y":113.6},{"s":"Downhill","x":1888.7,"y":122.3},{"s":"Downhill","x":1890,"y":135.4},{"s":"Downhill","x":1891.2,"y":107},{"s":"Downhill","x":1892.5,"y":87.4},{"s":"Downhill","x":1893.8,"y":77.6},{"s":"Downhill","x":1895,"y":78.7},{"s":"Downhill","x":1896.3,"y":73.2},{"s":"Downhill","x":1897.6,"y":80.9},{"s":"Downhill","x":1898.9,"y":94},{"s":"Downhill","x":1900.1,"y":88.5},{"s":"Downhill","x":1901.1,"y":113.6},{"s":"Downhill","x":1902.8,"y":61.2},{"s":"Downhill","x":1904,"y":78.7},{"s":"Downhill","x":1905.7,"y":78.7},{"s":"Downhill","x":1907.9,"y":100.5},{"s":"Downhill","x":1909.1,"y":74.3},{"s":"Downhill","x":1911.3,"y":96.1},{"s":"Downhill","x":1913,"y":79.8},{"s":"Downhill","x":1915.1,"y":102.7},{"s":"Downhill","x":1916.8,"y":83.1},{"s":"Downhill","x":1919.3,"y":121.2},{"s":"Downhill","x":1921,"y":110.3},{"s":"Downhill","x":1923.2,"y":107},{"s":"Downhill","x":1925.3,"y":121.2},{"s":"Downhill","x":1927,"y":102.7},{"s":"Downhill","x":1928.7,"y":87.4},{"s":"Downhill","x":1930.4,"y":102.7},{"s":"Downhill","x":1932.1,"y":107},{"s":"Downhill","x":1933.8,"y":127.8},{"s":"Downhill","x":1935.5,"y":115.8},{"s":"Downhill","x":1937,"y":152.8},{"s":"Downhill","x":1938.9,"y":124.5},{"s":"Downhill","x":1941,"y":133.2},{"s":"Downhill","x":1942.7,"y":113.6},{"s":"Downhill","x":1944.4,"y":126.7},{"s":"Downhill","x":1946,"y":96.1},{"s":"Downhill","x":1947.4,"y":125.6},{"s":"Downhill","x":1949.5,"y":120.1},{"s":"Downhill","x":1951.4,"y":102.7},{"s":"Downhill","x":1952.9,"y":120.1},{"s":"Downhill","x":1953.7,"y":122.3},{"s":"Downhill","x":1955,"y":91.8},{"s":"Downhill","x":1956.3,"y":88.5},{"s":"Downhill","x":1957.6,"y":91.8},{"s":"Downhill","x":1958.8,"y":100.5},{"s":"Downhill","x":1959.9,"y":116.9},{"s":"Downhill","x":1961,"y":95.1},{"s":"Downhill","x":1962.2,"y":89.6},{"s":"Downhill","x":1963.5,"y":102.7},{"s":"Downhill","x":1965,"y":63.4},{"s":"Downhill","x":1966,"y":78.7},{"s":"Downhill","x":1967.3,"y":86.3},{"s":"Downhill","x":1969,"y":85.2},{"s":"Downhill","x":1970.3,"y":96.1},{"s":"Downhill","x":1971.6,"y":91.8},{"s":"Downhill","x":1972.9,"y":110.3},{"s":"Downhill","x":1974.6,"y":96.1},{"s":"Downhill","x":1976.1,"y":119},{"s":"Downhill","x":1977.5,"y":98.3},{"s":"Downhill","x":1979.2,"y":102.7},{"s":"Downhill","x":1980.9,"y":94},{"s":"Downhill","x":1983.1,"y":87.4},{"s":"Downhill","x":1984.8,"y":94},{"s":"Downhill","x":1986.9,"y":83.1},{"s":"Downhill","x":1988.6,"y":100.5},{"s":"Downhill","x":1989.9,"y":102.7},{"s":"Downhill","x":1992,"y":80.9},{"s":"Downhill","x":1993.3,"y":95.1},{"s":"Downhill","x":1995,"y":71.1},{"s":"Downhill","x":1996.7,"y":83.1},{"s":"Downhill","x":1998.8,"y":79.8},{"s":"Downhill","x":2000.2,"y":98.3},{"s":"Downhill","x":2001.6,"y":100.5},{"s":"Downhill","x":2003,"y":95.1},{"s":"Downhill","x":2004.3,"y":98.3},{"s":"Downhill","x":2005,"y":83.1},
      {"s":"Top","x":1809.2,"y":49.2},{"s":"Top","x":1810.5,"y":61.2},{"s":"Top","x":1812,"y":55.8},{"s":"Top","x":1813.4,"y":76.5},{"s":"Top","x":1814.7,"y":90.7},{"s":"Top","x":1816,"y":91.8},{"s":"Top","x":1817.1,"y":87.4},{"s":"Top","x":1818.1,"y":82},{"s":"Top","x":1819.6,"y":90.7},{"s":"Top","x":1821.1,"y":136.5},{"s":"Top","x":1822.4,"y":124.5},{"s":"Top","x":1823,"y":117.9},{"s":"Top","x":1824.1,"y":190},{"s":"Top","x":1825.3,"y":115.8},{"s":"Top","x":1826.6,"y":104.9},{"s":"Top","x":1827.9,"y":83.1},{"s":"Top","x":1829.2,"y":151.8},{"s":"Top","x":1830.4,"y":83.1},{"s":"Top","x":1831.7,"y":72.2},{"s":"Top","x":1833,"y":83.1},{"s":"Top","x":1834.1,"y":120.1},{"s":"Top","x":1835.5,"y":77.6},{"s":"Top","x":1837,"y":43.8},{"s":"Top","x":1838.1,"y":72.2},{"s":"Top","x":1839.2,"y":113.6},{"s":"Top","x":1840.6,"y":113},{"s":"Top","x":1841.9,"y":123.4},{"s":"Top","x":1843.2,"y":98.3},{"s":"Top","x":1844.9,"y":61.2},{"s":"Top","x":1846.2,"y":72.2},{"s":"Top","x":1847.9,"y":66.7},{"s":"Top","x":1849.6,"y":67.8},{"s":"Top","x":1850.8,"y":72.2},{"s":"Top","x":1852.8,"y":56.9},{"s":"Top","x":1854.2,"y":66.7},{"s":"Top","x":1855.5,"y":70},{"s":"Top","x":1856.8,"y":67.8},{"s":"Top","x":1858.1,"y":87.4},{"s":"Top","x":1859.3,"y":83.1},{"s":"Top","x":1860.6,"y":94},{"s":"Top","x":1861.9,"y":110.3},{"s":"Top","x":1862.7,"y":190},{"s":"Top","x":1864,"y":190},{"s":"Top","x":1864.9,"y":167},{"s":"Top","x":1865.7,"y":165.9},{"s":"Top","x":1867,"y":128.9},{"s":"Top","x":1868.3,"y":124.5},{"s":"Top","x":1870,"y":96.1},{"s":"Top","x":1871.2,"y":119},{"s":"Top","x":1872.9,"y":150.7},{"s":"Top","x":1874.2,"y":98.3},{"s":"Top","x":1875.5,"y":107},{"s":"Top","x":1876.8,"y":115.8},{"s":"Top","x":1878,"y":104.9},{"s":"Top","x":1879.3,"y":106},{"s":"Top","x":1880.6,"y":120.1},{"s":"Top","x":1881.9,"y":135.4},{"s":"Top","x":1883.1,"y":150.7},{"s":"Top","x":1884.2,"y":135.4},{"s":"Top","x":1885.3,"y":145.2},{"s":"Top","x":1886.5,"y":135.4},{"s":"Top","x":1887.8,"y":120.1},{"s":"Top","x":1889.1,"y":119},{"s":"Top","x":1890.4,"y":111.4},{"s":"Top","x":1892.1,"y":58},{"s":"Top","x":1893.3,"y":65.6},{"s":"Top","x":1894.6,"y":77.6},{"s":"Top","x":1895.9,"y":71.1},{"s":"Top","x":1897.2,"y":79.8},{"s":"Top","x":1898.4,"y":94},{"s":"Top","x":1899.7,"y":58},{"s":"Top","x":1901,"y":54.7},{"s":"Top","x":1901.9,"y":44.9},{"s":"Top","x":1904,"y":20.9},{"s":"Top","x":1905.7,"y":40.5},{"s":"Top","x":1907.4,"y":39.4},{"s":"Top","x":1908.7,"y":37.3},{"s":"Top","x":1910,"y":28.5},{"s":"Top","x":1911.1,"y":42.7},{"s":"Top","x":1913,"y":17.6},{"s":"Top","x":1914.2,"y":27.4},{"s":"Top","x":1915.9,"y":24.2},{"s":"Top","x":1917.6,"y":47.1},{"s":"Top","x":1919.3,"y":59.1},{"s":"Top","x":1921,"y":66.2},{"s":"Top","x":1923.2,"y":64.5},{"s":"Top","x":1924.4,"y":63.4},{"s":"Top","x":1925.9,"y":55.8},{"s":"Top","x":1927.4,"y":68.9},{"s":"Top","x":1929.1,"y":73.2},{"s":"Top","x":1930.4,"y":85.2},{"s":"Top","x":1932.1,"y":66.7},{"s":"Top","x":1933.8,"y":96.1},{"s":"Top","x":1935.1,"y":73.2},{"s":"Top","x":1936.6,"y":102.7},{"s":"Top","x":1938,"y":73.2},{"s":"Top","x":1939.3,"y":97.2},{"s":"Top","x":1941,"y":100.5},{"s":"Top","x":1942.5,"y":117.9},{"s":"Top","x":1943.6,"y":131},{"s":"Top","x":1945.1,"y":102.7},{"s":"Top","x":1946.5,"y":129.9},{"s":"Top","x":1947.8,"y":139.8},{"s":"Top","x":1948.8,"y":135.4},{"s":"Top","x":1949.9,"y":117.9},{"s":"Top","x":1952,"y":86.3},{"s":"Top","x":1953.5,"y":122.3},{"s":"Top","x":1955,"y":160.5},{"s":"Top","x":1956.3,"y":126.7},{"s":"Top","x":1957.6,"y":96.1},{"s":"Top","x":1958.8,"y":102.7},{"s":"Top","x":1960.1,"y":111.4},{"s":"Top","x":1961.4,"y":76.5},{"s":"Top","x":1962.7,"y":71.1},{"s":"Top","x":1963.9,"y":133.2},{"s":"Top","x":1965.2,"y":65.6},{"s":"Top","x":1966.5,"y":68.9},{"s":"Top","x":1968.2,"y":63.4},{"s":"Top","x":1969.9,"y":64.5},{"s":"Top","x":1971,"y":56.9},{"s":"Top","x":1972.4,"y":104.9},{"s":"Top","x":1973.7,"y":91.8},{"s":"Top","x":1975,"y":111.4},{"s":"Top","x":1975.8,"y":138.7},{"s":"Top","x":1977.1,"y":96.1},{"s":"Top","x":1978.8,"y":135.4},{"s":"Top","x":1981,"y":87.4},{"s":"Top","x":1982.6,"y":92.9},{"s":"Top","x":1984.6,"y":116.9},{"s":"Top","x":1985.9,"y":133.2},{"s":"Top","x":1987.1,"y":117.9},{"s":"Top","x":1988,"y":135.4},{"s":"Top","x":1989.2,"y":131},{"s":"Top","x":1990.9,"y":163.8},{"s":"Top","x":1992.4,"y":129.9},{"s":"Top","x":1994,"y":159.4},{"s":"Top","x":1995,"y":106},{"s":"Top","x":1996.7,"y":125.6},{"s":"Top","x":1998.8,"y":106},{"s":"Top","x":2000.8,"y":114.7},{"s":"Top","x":2001.8,"y":107},{"s":"Top","x":2002.9,"y":162.1},{"s":"Top","x":2003.9,"y":159.4},{"s":"Top","x":2004.7,"y":135.4},{"s":"Top","x":2005,"y":130}
    ],
    "ixSmooth": [
      {"s":"Timberline","x":1800,"y":91.5},{"s":"Timberline","x":1806.2,"y":100.5},{"s":"Timberline","x":1812.2,"y":109.2},{"s":"Timberline","x":1819,"y":116.9},{"s":"Timberline","x":1822.4,"y":115.8},{"s":"Timberline","x":1825.8,"y":107},{"s":"Timberline","x":1830,"y":91.8},{"s":"Timberline","x":1834.3,"y":72.1},{"s":"Timberline","x":1839.4,"y":48.2},{"s":"Timberline","x":1842.8,"y":53.6},{"s":"Timberline","x":1847,"y":73.2},{"s":"Timberline","x":1851.3,"y":93},{"s":"Timberline","x":1853.5,"y":97.8},{"s":"Timberline","x":1858.1,"y":96.1},{"s":"Timberline","x":1862.3,"y":102.7},{"s":"Timberline","x":1866.6,"y":117.9},{"s":"Timberline","x":1870.8,"y":126.7},{"s":"Timberline","x":1875.9,"y":126.7},{"s":"Timberline","x":1881,"y":131},{"s":"Timberline","x":1884.4,"y":133.2},{"s":"Timberline","x":1887.8,"y":129.9},{"s":"Timberline","x":1892.1,"y":116.9},{"s":"Timberline","x":1896.3,"y":100.5},{"s":"Timberline","x":1898.5,"y":93.9},{"s":"Timberline","x":1902.8,"y":78.7},{"s":"Timberline","x":1908.7,"y":65.6},{"s":"Timberline","x":1912.9,"y":75.4},{"s":"Timberline","x":1918.1,"y":100.5},{"s":"Timberline","x":1924,"y":116.3},{"s":"Timberline","x":1929.1,"y":110.3},{"s":"Timberline","x":1934.2,"y":102.7},{"s":"Timberline","x":1939.3,"y":104.3},{"s":"Timberline","x":1944.4,"y":107},{"s":"Timberline","x":1949.5,"y":104},{"s":"Timberline","x":1953.3,"y":101.6},{"s":"Timberline","x":1958.4,"y":99.4},{"s":"Timberline","x":1964.4,"y":100},{"s":"Timberline","x":1969.5,"y":104.9},{"s":"Timberline","x":1975,"y":108.4},{"s":"Timberline","x":1978.8,"y":106},{"s":"Timberline","x":1983.9,"y":97.8},{"s":"Timberline","x":1989,"y":92.3},{"s":"Timberline","x":1994.1,"y":89.1},{"s":"Timberline","x":1999.2,"y":89.1},{"s":"Timberline","x":2005,"y":91},
      {"s":"Downhill","x":1800,"y":91},{"s":"Downhill","x":1802.8,"y":74.3},{"s":"Downhill","x":1806.2,"y":65.1},{"s":"Downhill","x":1810.5,"y":73.2},{"s":"Downhill","x":1814.7,"y":84.1},{"s":"Downhill","x":1820.7,"y":87.4},{"s":"Downhill","x":1826.6,"y":90.1},{"s":"Downhill","x":1830,"y":85.2},{"s":"Downhill","x":1834.3,"y":73.2},{"s":"Downhill","x":1837.7,"y":66.7},{"s":"Downhill","x":1841.9,"y":76.5},{"s":"Downhill","x":1846.2,"y":98.3},{"s":"Downhill","x":1851.3,"y":128.9},{"s":"Downhill","x":1854.7,"y":135.4},{"s":"Downhill","x":1859.8,"y":128.9},{"s":"Downhill","x":1865.7,"y":123.4},{"s":"Downhill","x":1870.8,"y":115.8},{"s":"Downhill","x":1875.9,"y":107},{"s":"Downhill","x":1879.3,"y":103.8},{"s":"Downhill","x":1886.1,"y":107.6},{"s":"Downhill","x":1891.2,"y":99.4},{"s":"Downhill","x":1896.3,"y":87.4},{"s":"Downhill","x":1902.3,"y":83.1},{"s":"Downhill","x":1909.6,"y":86.3},{"s":"Downhill","x":1915.5,"y":96.1},{"s":"Downhill","x":1921.5,"y":108.7},{"s":"Downhill","x":1927.4,"y":106.5},{"s":"Downhill","x":1934.2,"y":116.9},{"s":"Downhill","x":1939.3,"y":125.6},{"s":"Downhill","x":1944.4,"y":120.1},{"s":"Downhill","x":1948.7,"y":111.4},{"s":"Downhill","x":1953.3,"y":103.8},{"s":"Downhill","x":1959.3,"y":92.9},{"s":"Downhill","x":1965.2,"y":85.2},{"s":"Downhill","x":1970.3,"y":91.8},{"s":"Downhill","x":1976.3,"y":100.5},{"s":"Downhill","x":1980.5,"y":97.8},{"s":"Downhill","x":1986.5,"y":91.8},{"s":"Downhill","x":1992.4,"y":88.5},{"s":"Downhill","x":1996.7,"y":87.4},{"s":"Downhill","x":2001.8,"y":88},{"s":"Downhill","x":2005,"y":87.3},
      {"s":"Top","x":1809.2,"y":54.7},{"s":"Top","x":1813,"y":72.1},{"s":"Top","x":1817.3,"y":96.1},{"s":"Top","x":1820.7,"y":109.2},{"s":"Top","x":1823.6,"y":112.5},{"s":"Top","x":1826.6,"y":106},{"s":"Top","x":1830,"y":97.2},{"s":"Top","x":1833.4,"y":91.8},{"s":"Top","x":1836.8,"y":91.8},{"s":"Top","x":1840.6,"y":93.4},{"s":"Top","x":1843.6,"y":90.7},{"s":"Top","x":1847.9,"y":76.5},{"s":"Top","x":1852.1,"y":68.3},{"s":"Top","x":1856.4,"y":83.1},{"s":"Top","x":1860.6,"y":115.8},{"s":"Top","x":1866.6,"y":134.9},{"s":"Top","x":1870.8,"y":126.7},{"s":"Top","x":1875.9,"y":120.7},{"s":"Top","x":1882.7,"y":125},{"s":"Top","x":1886.1,"y":120.1},{"s":"Top","x":1891.2,"y":100.5},{"s":"Top","x":1896.3,"y":79.8},{"s":"Top","x":1902.3,"y":55.8},{"s":"Top","x":1908.7,"y":35.1},{"s":"Top","x":1912.1,"y":33.4},{"s":"Top","x":1917.2,"y":47.1},{"s":"Top","x":1923.2,"y":62.3},{"s":"Top","x":1929.1,"y":74.3},{"s":"Top","x":1934.2,"y":84.1},{"s":"Top","x":1939.3,"y":97.2},{"s":"Top","x":1944.4,"y":111.4},{"s":"Top","x":1948.7,"y":119},{"s":"Top","x":1950.8,"y":120.1},{"s":"Top","x":1955,"y":111.4},{"s":"Top","x":1960.1,"y":92.9},{"s":"Top","x":1963.5,"y":82},{"s":"Top","x":1966.9,"y":77.1},{"s":"Top","x":1970.3,"y":83.1},{"s":"Top","x":1973.7,"y":94},{"s":"Top","x":1978,"y":104.9},{"s":"Top","x":1982.2,"y":112.5},{"s":"Top","x":1986.5,"y":122.3},{"s":"Top","x":1992.4,"y":128.3},{"s":"Top","x":1995.8,"y":127.2},{"s":"Top","x":2000,"y":126.1},{"s":"Top","x":2005,"y":128.5}
    ]
  },
  "concat": [
    {
      "hconcat": [
        {"width": 1, "height": 1, "view": {"stroke": null}, "data": {"values": []}, "mark": {"type": "point", "opacity": 0}},
        {
          "width": 796,
          "height": 590,
          "encoding": {
            "x": {"field": "x", "type": "quantitative", "scale": {"domain": [1800, 2005], "nice": false, "zero": false},
              "axis": {"values": [1800,1810,1820,1830,1840,1850,1860,1870,1880,1890,1900,1910,1920,1930,1940,1950,1960,1970,1980,1990,2000], "labelExpr": "datum.value % 50 === 0 ? format(datum.value, 'd') : ''", "labelFontSize": 38, "tickSize": 9, "labelPadding": 10, "grid": true, "gridOpacity": {"condition": {"test": "datum.value % 50 === 0 && datum.value > 1800", "value": 1}, "value": 0}, "title": null}},
            "y": {"field": "y", "type": "quantitative", "scale": {"domain": [0, 3], "nice": false},
              "axis": {"values": [0,0.2,0.4,0.6,0.8,1,1.2,1.4,1.6,1.8,2,2.2,2.4,2.6,2.8,3], "labelExpr": "datum.value % 1 === 0 ? format(datum.value, 'd') : ''", "labelFontSize": 38, "tickSize": 11, "labelPadding": 10, "grid": true, "gridOpacity": {"condition": {"test": "datum.value === 1 || datum.value === 2", "value": 1}, "value": 0}, "title": "Ring width", "titleFontSize": 38, "titlePadding": 34}},
            "color": {"field": "s", "type": "nominal", "scale": {"domain": ["Downhill", "Timberline", "Top"], "range": ["#168c16", "#1212e6", "#ee1c1c"]},
              "legend": {"legendX": 47, "legendY": -42, "encode": {"symbols": {"update": {"strokeCap": {"value": "round"}}}}}}
          },
          "layer": [
            {"data": {"name": "rwRaw"}, "mark": {"type": "line", "strokeWidth": 1.2, "clip": true}},
            {"data": {"name": "rwSmooth"}, "mark": {"type": "line", "strokeWidth": 4.5, "interpolate": "monotone", "clip": true}}
          ]
        }
      ],
      "spacing": 14,
      "bounds": "flush"
    },
    {
      "width": 803,
      "height": 596,
      "encoding": {
        "x": {"field": "x", "type": "quantitative", "scale": {"domain": [1800, 2005], "nice": false, "zero": false},
          "axis": {"values": [1800,1810,1820,1830,1840,1850,1860,1870,1880,1890,1900,1910,1920,1930,1940,1950,1960,1970,1980,1990,2000], "labelExpr": "datum.value % 50 === 0 ? format(datum.value, 'd') : ''", "labelFontSize": 24, "tickSize": 9, "labelPadding": 11, "grid": true, "gridOpacity": {"condition": {"test": "datum.value % 50 === 0 && datum.value > 1800", "value": 1}, "value": 0},
            "title": "Syksyllä 2005 kerätyn aineiston tuloksia:  lustoleveydet ja indeksit.", "titleFont": "Liberation Serif", "titleFontSize": 22.5, "titleFontWeight": "normal", "titleAlign": "left", "titleX": 150, "titlePadding": 5}},
        "y": {"field": "y", "type": "quantitative", "scale": {"domain": [10, 180], "nice": false},
          "axis": {"values": [10,20,30,40,50,60,70,80,90,100,110,120,130,140,150,160,170,180], "labelExpr": "datum.value % 50 === 0 ? format(datum.value, 'd') : ''", "labelFontSize": 24, "tickSize": 8, "labelPadding": 12, "grid": true, "gridOpacity": {"condition": {"test": "datum.value === 50 || datum.value === 150", "value": 1}, "value": 0}, "title": "Index", "titleFontSize": 28, "titlePadding": 33}},
        "color": {"field": "s", "type": "nominal", "scale": {"domain": ["Downhill", "Timberline", "Top"], "range": ["#168c16", "#1212e6", "#ee1c1c"]},
          "legend": {"legendX": 30, "legendY": -44, "encode": {"symbols": {"update": {"strokeCap": {"value": "round"}}}}}}
      },
      "layer": [
        {"data": {"name": "ixRaw"}, "mark": {"type": "line", "strokeWidth": 1.2, "clip": true}},
        {"data": {"values": [{"ref": 100}]}, "mark": {"type": "rule", "color": "black", "strokeWidth": 3.5}, "encoding": {"y": {"field": "ref", "type": "quantitative"}, "x": null, "color": null}},
        {"data": {"name": "ixSmooth"}, "mark": {"type": "line", "strokeWidth": 4.5, "interpolate": "monotone", "clip": true}}
      ]
    }
  ]
}
